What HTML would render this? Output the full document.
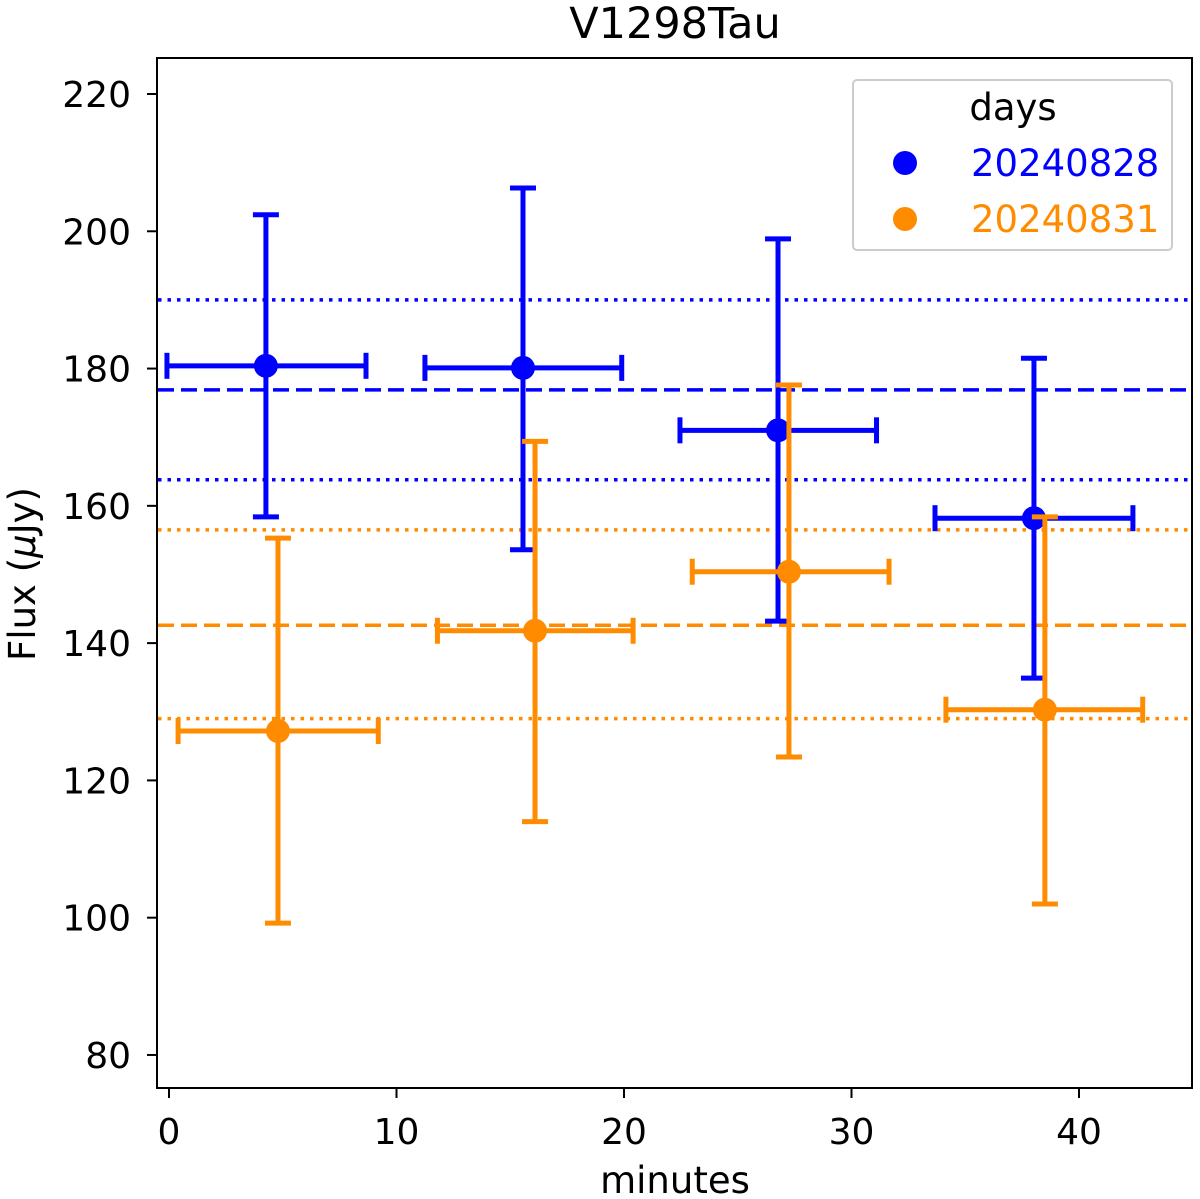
<!DOCTYPE html>
<html><head><meta charset="utf-8"><style>
body{margin:0;background:#fff;}
svg{display:block;font-family:"DejaVu Sans","Liberation Sans",sans-serif;}
</style></head><body>
<svg id="chart" width="1200" height="1199" viewBox="0 0 1200 1199" xmlns="http://www.w3.org/2000/svg">
<text x="675" y="38" font-size="43" text-anchor="middle">V1298Tau</text>
<g id="lines"></g>
<g id="marks"></g>
<rect x="157" y="58" width="1035" height="1030" fill="none" stroke="#000" stroke-width="2"/>
<g id="axes"></g>
<text x="675" y="1193" font-size="37" text-anchor="middle">minutes</text>
<text x="0" y="0" font-size="37" text-anchor="middle" transform="translate(35,574) rotate(-90)">Flux (<tspan font-style="italic">μ</tspan>Jy)</text>
<g>
<rect x="853" y="80" width="319" height="170" rx="4" fill="#fff" stroke="#ccc" stroke-width="2"/>
<text x="1013" y="120" font-size="37" text-anchor="middle">days</text>
<circle cx="905" cy="163" r="12" fill="#0000ff"/>
<text x="971" y="176" font-size="37" fill="#0000ff">20240828</text>
<circle cx="905" cy="219" r="12" fill="#ff8c00"/>
<text x="971" y="232" font-size="37" fill="#ff8c00">20240831</text>
</g>
</svg>
<script>
const xTicks=[0,10,20,30,40];
const yTicks=[80,100,120,140,160,180,200,220];
const blueX=[4.26,15.56,26.77,38.02];
const blueY=[180.4,180.1,171.0,158.2];
const blueYLo=[158.4,153.6,143.2,134.9];
const blueYHi=[202.4,206.3,198.9,181.5];
const blueXLo=[-0.09,11.25,22.46,33.67];
const blueXHi=[8.66,19.9,31.1,42.37];
const orangeX=[4.79,16.09,27.25,38.5];
const orangeY=[127.2,141.8,150.4,130.3];
const orangeYLo=[99.2,114.0,123.4,102.0];
const orangeYHi=[155.3,169.4,177.6,158.4];
const orangeXLo=[0.4,11.8,23.0,34.15];
const orangeXHi=[9.2,20.4,31.65,42.8];
const blueMean=[176.9], blueBand=[163.8,190.0];
const orangeMean=[142.6], orangeBand=[129.0,156.5];

const NS="http://www.w3.org/2000/svg";
const X=v=>169+22.75*v;
const Y=v=>94+(220-v)*6.864;
function el(tag,attrs,parent){const e=document.createElementNS(NS,tag);for(const k in attrs)e.setAttribute(k,attrs[k]);parent.appendChild(e);return e;}
const axes=document.getElementById('axes'),lines=document.getElementById('lines'),marks=document.getElementById('marks');
xTicks.forEach(t=>{
  const l=el('line',{x1:X(t),x2:X(t),y1:1088,y2:1098,stroke:'#000','stroke-width':2},axes);
  
  
  const tx=el('text',{x:X(t),y:1144,'font-size':36,'text-anchor':'middle'},axes);tx.textContent=t;
  
  
});
yTicks.forEach(t=>{
  const l=el('line',{x1:147,x2:157,y1:Y(t),y2:Y(t),stroke:'#000','stroke-width':2},axes);
  
  
  const tx=el('text',{x:131,y:Y(t)+13,'font-size':36,'text-anchor':'end'},axes);tx.textContent=t;
  
  
});
function hline(v,color,dash,name){
  const l=el('line',{x1:158,x2:1191,y1:Y(v),y2:Y(v),stroke:color,'stroke-width':3.5,'stroke-dasharray':dash},lines);
  
  
}
blueMean.forEach(v=>hline(v,'#0000ff','16 7','blue-mean-line'));
blueBand.forEach(v=>hline(v,'#0000ff','3.5 6','blue-band-line'));
orangeMean.forEach(v=>hline(v,'#ff8c00','16 7','orange-mean-line'));
orangeBand.forEach(v=>hline(v,'#ff8c00','3.5 6','orange-band-line'));
function series(xs,ys,ylo,yhi,xlo,xhi,color,name){
  xs.forEach((x,i)=>{
    const g=el('g',{},marks);
    
    
    const s={stroke:color,'stroke-width':5};
    el('line',Object.assign({x1:X(x),x2:X(x),y1:Y(ylo[i]),y2:Y(yhi[i])},s),g);
    el('line',Object.assign({x1:X(xlo[i]),x2:X(xhi[i]),y1:Y(ys[i]),y2:Y(ys[i])},s),g);
    el('line',Object.assign({x1:X(x)-13,x2:X(x)+13,y1:Y(ylo[i]),y2:Y(ylo[i])},s),g);
    el('line',Object.assign({x1:X(x)-13,x2:X(x)+13,y1:Y(yhi[i]),y2:Y(yhi[i])},s),g);
    el('line',Object.assign({x1:X(xlo[i]),x2:X(xlo[i]),y1:Y(ys[i])-13,y2:Y(ys[i])+13},s),g);
    el('line',Object.assign({x1:X(xhi[i]),x2:X(xhi[i]),y1:Y(ys[i])-13,y2:Y(ys[i])+13},s),g);
    el('circle',{cx:X(x),cy:Y(ys[i]),r:12,fill:color},g);
  });
}
series(blueX,blueY,blueYLo,blueYHi,blueXLo,blueXHi,'#0000ff','blue');
series(orangeX,orangeY,orangeYLo,orangeYHi,orangeXLo,orangeXHi,'#ff8c00','orange');
</script>
</body></html>
